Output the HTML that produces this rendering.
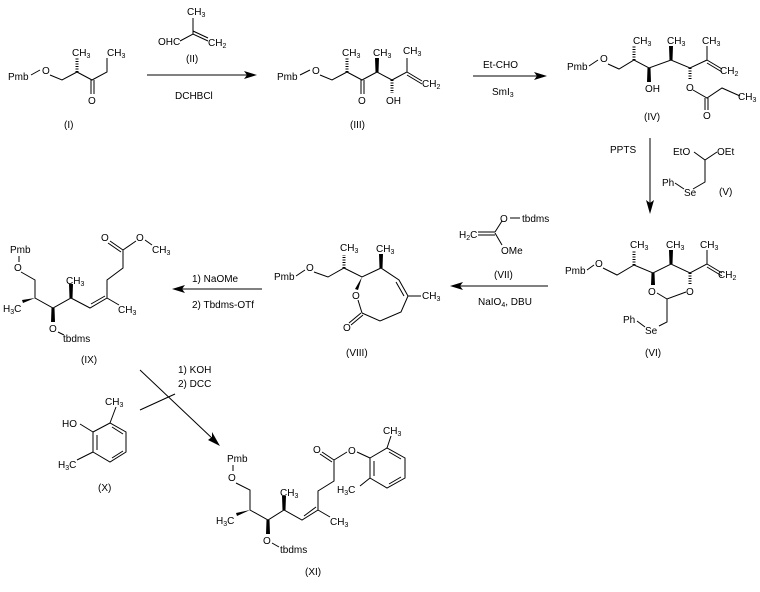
<!DOCTYPE html>
<html><head><meta charset="utf-8"><style>
body{margin:0;background:#fff}
svg{display:block}
text{font-family:"Liberation Sans",sans-serif;font-size:10px;fill:#000}
line,polyline{stroke:#000;stroke-width:1;fill:none}
.h{stroke-width:3;stroke-dasharray:1 1.5}
</style></head><body>
<svg width="760" height="592" viewBox="0 0 760 592">
<!-- I -->
<text x="8" y="80">Pmb</text><text x="42" y="74">O</text><line x1="31" y1="75" x2="40" y2="70"/>
<polyline points="50,75 62,80 77,72 92,80 107,72 107,58"/>
<line class="h" x1="77" y1="72" x2="77" y2="58"/>
<text x="72" y="56">CH<tspan font-size="7" dy="2">3</tspan></text>
<text x="107" y="56">CH<tspan font-size="7" dy="2">3</tspan></text>
<line x1="91" y1="80" x2="91" y2="94"/><line x1="94" y1="80" x2="94" y2="94"/>
<text x="88" y="104">O</text>
<text x="64" y="128">(I)</text>
<!-- arrow 1 -->
<line x1="147" y1="75" x2="252" y2="75"/><polygon points="257,75 244,71 247,75 244,79"/>
<text x="175" y="99">DCHBCl</text>
<text x="158" y="45">OHC</text><polyline points="180,41 193,34 208,41"/>
<line x1="193" y1="31" x2="208" y2="38"/><line x1="193" y1="34" x2="193" y2="18"/>
<text x="187" y="15">CH<tspan font-size="7" dy="2">3</tspan></text>
<text x="208" y="46">CH<tspan font-size="7" dy="2">2</tspan></text>
<text x="186" y="62">(II)</text>
<!-- III -->
<text x="277" y="80">Pmb</text><text x="312" y="74">O</text><line x1="300" y1="75" x2="310" y2="70"/>
<polyline points="320,75 332,80 347,72 362,80 377,72 392,80 407,72 407,58"/>
<line class="h" x1="347" y1="72" x2="347" y2="58"/>
<polygon points="375.5,72 378.5,72 379,58 375,58"/>
<line class="h" x1="392" y1="80" x2="392" y2="93"/>
<line x1="407" y1="75" x2="422" y2="84"/><line x1="407" y1="72" x2="422" y2="81"/>
<text x="342" y="56">CH<tspan font-size="7" dy="2">3</tspan></text>
<text x="373" y="56">CH<tspan font-size="7" dy="2">3</tspan></text>
<text x="403" y="54">CH<tspan font-size="7" dy="2">3</tspan></text>
<text x="422" y="87">CH<tspan font-size="7" dy="2">2</tspan></text>
<line x1="361" y1="80" x2="361" y2="94"/><line x1="364" y1="80" x2="364" y2="94"/>
<text x="358" y="104">O</text><text x="386" y="104">OH</text>
<text x="350" y="128">(III)</text>
<!-- arrow 2 -->
<line x1="473" y1="76" x2="542" y2="76"/><polygon points="547,76 534,72 537,76 534,80"/>
<text x="483" y="68">Et-CHO</text><text x="492" y="95">SmI<tspan font-size="7" dy="2">3</tspan></text>
<!-- IV -->
<text x="567" y="70">Pmb</text><text x="600" y="62">O</text><line x1="589" y1="66" x2="598" y2="60"/>
<polyline points="608,64 619,69 634,60 649,68 671,60 690,68 707,60 707,46"/>
<line class="h" x1="634" y1="60" x2="634" y2="46"/>
<polygon points="647.5,68 650.5,68 651,82 647,82"/>
<polygon points="669.5,60 672.5,60 673,46 669,46"/>
<line class="h" x1="690" y1="68" x2="690" y2="80"/>
<line x1="707" y1="63" x2="722" y2="72"/><line x1="707" y1="60" x2="722" y2="69"/>
<text x="633" y="44" >CH<tspan font-size="7" dy="2">3</tspan></text>
<text x="667" y="44">CH<tspan font-size="7" dy="2">3</tspan></text>
<text x="702" y="44">CH<tspan font-size="7" dy="2">3</tspan></text>
<text x="720" y="74">CH<tspan font-size="7" dy="2">2</tspan></text>
<text x="645" y="92">OH</text><text x="686" y="91">O</text>
<polyline points="693,90 707,98 722,88 740,96"/>
<text x="738" y="100">CH<tspan font-size="7" dy="2">3</tspan></text>
<line x1="705" y1="98" x2="705" y2="110"/><line x1="708" y1="98" x2="708" y2="110"/>
<text x="703" y="119">O</text>
<text x="644" y="120">(IV)</text>
<!-- arrow down -->
<line x1="650" y1="138" x2="650" y2="208"/><polygon points="650,214 646,200 650,203 654,200"/>
<text x="610" y="153">PPTS</text>
<text x="673" y="155">EtO</text><text x="717" y="155">OEt</text>
<polyline points="694,152 705,160 717,152"/><polyline points="705,160 705,182 693,189"/>
<text x="662" y="186">Ph</text><polyline points="675,183 684,189"/><text x="684" y="196">Se</text>
<text x="719" y="195">(V)</text>
<!-- VI -->
<text x="565" y="274">Pmb</text><text x="595" y="267">O</text><line x1="587" y1="270" x2="594" y2="265"/>
<polyline points="603,268 617,275 634,265 653,273 671,264 690,273 707,264 707,250"/>
<line class="h" x1="634" y1="265" x2="634" y2="250"/>
<polygon points="651.5,273 654.5,273 655,285 651,285"/>
<polygon points="669.5,264 672.5,264 673,250 669,250"/>
<line class="h" x1="690" y1="273" x2="690" y2="284"/>
<line x1="707" y1="267" x2="722" y2="276"/><line x1="707" y1="264" x2="722" y2="273"/>
<text x="630" y="248">CH<tspan font-size="7" dy="2">3</tspan></text>
<text x="666" y="248">CH<tspan font-size="7" dy="2">3</tspan></text>
<text x="700" y="248">CH<tspan font-size="7" dy="2">3</tspan></text>
<text x="718" y="278">CH<tspan font-size="7" dy="2">2</tspan></text>
<text x="648" y="295">O</text><text x="686" y="295">O</text>
<polyline points="657,293 667,299 686,292"/><polyline points="667,299 667,322 659,326"/>
<text x="623" y="323">Ph</text><line x1="637" y1="321" x2="645" y2="327"/><text x="645" y="334">Se</text>
<text x="645" y="356">(VI)</text>
<!-- arrow 3 -->
<line x1="548" y1="286" x2="456" y2="286"/><polygon points="450,286 463,282 460,286 463,290"/>
<text x="478" y="305">NaIO<tspan font-size="7" dy="2">4</tspan><tspan dy="-2">, DBU</tspan></text>
<text x="459" y="238">H<tspan font-size="7" dy="2">2</tspan><tspan dy="-2">C</tspan></text>
<line x1="478" y1="232" x2="495" y2="232"/><line x1="478" y1="235" x2="495" y2="235"/>
<polyline points="495,232 502,221"/><polyline points="495,233 502,245"/>
<text x="500" y="222">O</text><line x1="510" y1="218" x2="520" y2="218"/><text x="522" y="222">tbdms</text>
<text x="501" y="254">OMe</text><text x="494" y="278">(VII)</text>
<!-- VIII -->
<text x="274" y="280">Pmb</text><text x="306" y="271">O</text><line x1="296" y1="276" x2="305" y2="270"/>
<polyline points="314,272 328,277 344,268 362,277 381,268 399,280 408,296 401,312 380,321 362,313"/>
<line x1="396" y1="282" x2="404" y2="296"/>
<line class="h" x1="344" y1="268" x2="344" y2="255"/>
<polygon points="379.5,268 382.5,268 383,254 379,254"/>
<polygon points="362,277 358,290 355,289"/>
<line x1="408" y1="296" x2="421" y2="296"/>
<polyline points="358,300 362,313"/>
<line x1="361" y1="313" x2="349" y2="323"/><line x1="363" y1="315" x2="351" y2="325"/>
<text x="340" y="251">CH<tspan font-size="7" dy="2">3</tspan></text>
<text x="376" y="252">CH<tspan font-size="7" dy="2">3</tspan></text>
<text x="422" y="299">CH<tspan font-size="7" dy="2">3</tspan></text>
<text x="352" y="299">O</text><text x="343" y="331">O</text>
<text x="346" y="356">(VIII)</text>
<!-- arrow 4 -->
<line x1="262" y1="289" x2="178" y2="289"/><polygon points="172,289 185,285 182,289 185,293"/>
<text x="192" y="282">1) NaOMe</text><text x="192" y="308">2) Tbdms-OTf</text>
<!-- IX -->
<text x="10" y="253">Pmb</text><line x1="19" y1="256" x2="19" y2="262"/><text x="14" y="271">O</text>
<polyline points="21,272 35,280 35,298 53,308 71,298 90,308 107,298 107,280 123,268 123,250"/>
<line x1="91" y1="304" x2="105" y2="296"/>
<polygon points="35,298 23,303 22,300"/>
<polygon points="51.5,308 54.5,308 55,322 51,322"/>
<polygon points="69.5,298 72.5,298 73,284 69,284"/>
<line x1="107" y1="298" x2="119" y2="305"/>
<line x1="123" y1="250" x2="110" y2="241"/><line x1="121" y1="252" x2="108" y2="243"/>
<line x1="123" y1="250" x2="136" y2="241"/><line x1="145" y1="240" x2="152" y2="245"/>
<text x="101" y="241">O</text><text x="136" y="241">O</text>
<text x="152" y="253">CH<tspan font-size="7" dy="2">3</tspan></text>
<text x="66" y="284">CH<tspan font-size="7" dy="2">3</tspan></text>
<text x="118" y="313">CH<tspan font-size="7" dy="2">3</tspan></text>
<text x="3" y="312">H<tspan font-size="7" dy="2">3</tspan><tspan dy="-2">C</tspan></text>
<text x="49" y="332">O</text><line x1="58" y1="332" x2="64" y2="335"/><text x="63" y="342">tbdms</text>
<text x="81" y="363">(IX)</text>
<!-- arrow 5 -->
<line x1="140" y1="370" x2="214" y2="440"/><polygon points="220,446 208,440 212,437 212,432"/>
<line x1="140" y1="410" x2="175" y2="394"/>
<text x="178" y="373">1) KOH</text><text x="178" y="387">2) DCC</text>
<!-- X -->
<text x="62" y="427">HO</text><line x1="80" y1="424" x2="93" y2="432"/>
<polygon points="93,432 110,423 126,432 126,452 110,462 93,452" fill="none" stroke="#000"/>
<line x1="97" y1="435" x2="97" y2="450"/><line x1="112" y1="427" x2="123" y2="434"/><line x1="112" y1="458" x2="123" y2="451"/>
<line x1="110" y1="423" x2="116" y2="407"/><text x="105" y="405">CH<tspan font-size="7" dy="2">3</tspan></text>
<line x1="93" y1="452" x2="77" y2="460"/><text x="58" y="468">H<tspan font-size="7" dy="2">3</tspan><tspan dy="-2">C</tspan></text>
<text x="98" y="491">(X)</text>
<!-- XI -->
<text x="227" y="462">Pmb</text><line x1="233" y1="465" x2="233" y2="471"/><text x="228" y="481">O</text>
<polyline points="236,483 250,490 250,510 268,520 284,510 302,520 318,510 318,491 334,481 334,460"/>
<line x1="304" y1="516" x2="316" y2="507"/>
<polygon points="250,510 237,516 236,513"/>
<polygon points="266.5,520 269.5,520 270,534 266,534"/>
<polygon points="282.5,510 285.5,510 286,496 282,496"/>
<line x1="318" y1="510" x2="330" y2="517"/>
<line x1="334" y1="460" x2="322" y2="452"/><line x1="332" y1="462" x2="320" y2="454"/>
<line x1="334" y1="460" x2="347" y2="452"/><line x1="357" y1="452" x2="370" y2="458"/>
<text x="313" y="453">O</text><text x="348" y="454">O</text>
<polygon points="370,458 387,448 405,458 405,478 387,488 370,478" fill="none" stroke="#000"/>
<line x1="374" y1="461" x2="374" y2="476"/><line x1="389" y1="452" x2="401" y2="459"/><line x1="389" y1="484" x2="401" y2="477"/>
<line x1="387" y1="448" x2="391" y2="436"/><text x="383" y="434">CH<tspan font-size="7" dy="2">3</tspan></text>
<line x1="370" y1="478" x2="360" y2="486"/><text x="337" y="493">H<tspan font-size="7" dy="2">3</tspan><tspan dy="-2">C</tspan></text>
<text x="280" y="496">CH<tspan font-size="7" dy="2">3</tspan></text>
<text x="330" y="525">CH<tspan font-size="7" dy="2">3</tspan></text>
<text x="216" y="524">H<tspan font-size="7" dy="2">3</tspan><tspan dy="-2">C</tspan></text>
<text x="263" y="544">O</text><line x1="272" y1="543" x2="279" y2="547"/><text x="280" y="553">tbdms</text>
<text x="305" y="575">(XI)</text>
</svg>
</body></html>
